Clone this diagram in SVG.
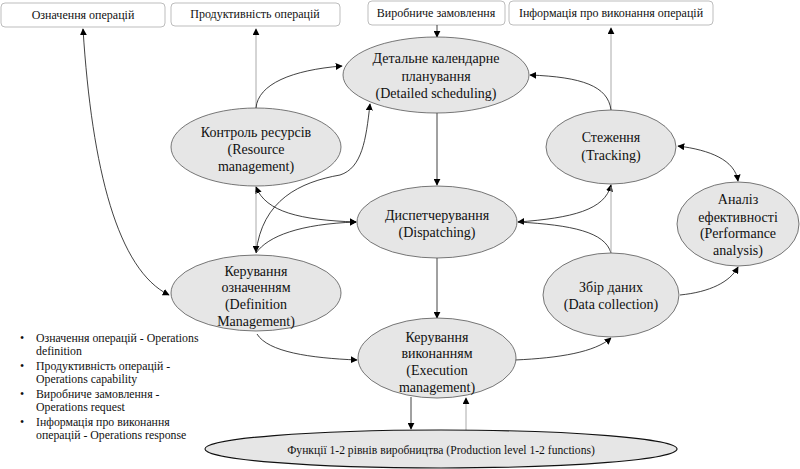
<svg xmlns="http://www.w3.org/2000/svg" width="800" height="469" viewBox="0 0 800 469">
<defs>
<marker id="ah" viewBox="0 0 10 10" refX="9" refY="5" markerWidth="7" markerHeight="7" markerUnits="userSpaceOnUse" orient="auto-start-reverse">
<path d="M0,0 L10,5 L0,10 z" fill="#000"/>
</marker>
<style>
.box{fill:#fff;stroke:#bdbdbd;stroke-width:1}
.el{fill:#e6e6e6;stroke:#555;stroke-width:0.8}
.t{font-family:"Liberation Serif","Times New Roman",serif;font-size:14px;fill:#111;text-anchor:middle}
.bt{font-family:"Liberation Serif","Times New Roman",serif;font-size:12px;fill:#111;text-anchor:middle}
.pt{font-family:"Liberation Serif","Times New Roman",serif;font-size:11.6px;fill:#111;text-anchor:middle}
.lt{font-family:"Liberation Serif","Times New Roman",serif;font-size:11.8px;fill:#111}
.c{fill:none;stroke:#111;stroke-width:0.8}
.g{fill:none;stroke:#aaa;stroke-width:1}
</style>
</defs>
<rect width="800" height="469" fill="#fff"/>

<g id="box-def"><rect class="box" x="1" y="3" width="164" height="24" rx="4"/><text class="bt" x="83" y="19">Означення операцій</text></g>
<g id="box-cap"><rect class="box" x="171" y="3" width="169" height="23" rx="4"/><text class="bt" x="255" y="18">Продуктивність операцій</text></g>
<g id="box-req"><rect class="box" x="368" y="1" width="137" height="24" rx="4"/><text class="bt" x="436" y="17">Виробниче замовлення</text></g>
<g id="box-resp"><rect class="box" x="509" y="1" width="204" height="24" rx="4"/><text class="bt" x="611" y="17">Інформація про виконання операцій</text></g>

<g id="connectors">
<path class="c" d="M83,29 C 92,170 118,270 169,295" marker-start="url(#ah)" marker-end="url(#ah)"/>
<path class="g" d="M256,108 L256,29" marker-end="url(#ah)"/>
<path class="c" d="M256,108 C 258,84 292,70 342,66" marker-end="url(#ah)"/>
<path class="c" d="M437,25 L437,37" marker-end="url(#ah)"/>
<path class="g" d="M611,110 L611,28" marker-end="url(#ah)"/>
<path class="c" d="M611,110 C 608,86 582,77 530,75" marker-end="url(#ah)"/>
<path class="c" d="M437,113 L437,185" marker-end="url(#ah)"/>
<path class="c" d="M437,258 L437,318" stroke-width="1.3" marker-end="url(#ah)"/>
<path class="c" d="M256,187 C 266,212 300,220 356,222" marker-start="url(#ah)" marker-end="url(#ah)"/>
<path class="g" d="M256,192 L256,252" marker-end="url(#ah)"/>
<path class="c" d="M356,222 C 300,224 268,236 256,253" marker-start="url(#ah)"/>
<path class="c" d="M256,253 C 262,200 300,182 340,175 C 362,168 366,140 370,104" marker-end="url(#ah)"/>
<path class="c" d="M611,185 C 605,210 572,218 518,222" marker-start="url(#ah)" marker-end="url(#ah)"/>
<path class="c" d="M611,253 C 605,232 572,225 518,222"/>
<path class="g" d="M611,253 L611,187"/>
<path class="c" d="M678,146 C 710,150 735,160 738,181" marker-start="url(#ah)" marker-end="url(#ah)"/>
<path class="c" d="M680,295 C 710,292 730,282 738,267" marker-end="url(#ah)"/>
<path class="c" d="M515,360 C 560,358 595,352 611,338" marker-end="url(#ah)"/>
<path class="c" d="M257,334 C 268,352 310,358 357,360" marker-end="url(#ah)"/>
<path class="c" d="M411,397 L411,429" marker-end="url(#ah)"/>
<path class="g" d="M466,430 L466,398" marker-end="url(#ah)"/>
</g>

<g id="n-sched"><ellipse class="el" cx="436" cy="75" rx="93" ry="38"/>
<text class="t" x="436" y="63">Детальне календарне</text><text class="t" x="436" y="81">планування</text><text class="t" x="436" y="98">(Detailed scheduling)</text></g>
<g id="n-res"><ellipse class="el" cx="256" cy="147" rx="85" ry="39"/>
<text class="t" x="256" y="137">Контроль ресурсів</text><text class="t" x="256" y="154">(Resource</text><text class="t" x="256" y="171">management)</text></g>
<g id="n-disp"><ellipse class="el" cx="437" cy="222" rx="80" ry="36"/>
<text class="t" x="437" y="220">Диспетчерування</text><text class="t" x="437" y="237">(Dispatching)</text></g>
<g id="n-track"><ellipse class="el" cx="611" cy="147" rx="65" ry="37"/>
<text class="t" x="611" y="142">Стеження</text><text class="t" x="611" y="160">(Tracking)</text></g>
<g id="n-perf"><ellipse class="el" cx="738" cy="224" rx="61" ry="42"/>
<text class="t" x="738" y="204">Аналіз</text><text class="t" x="738" y="222">ефективності</text><text class="t" x="738" y="238">(Performance</text><text class="t" x="738" y="255">analysis)</text></g>
<g id="n-data"><ellipse class="el" cx="611" cy="295" rx="68" ry="42"/>
<text class="t" x="611" y="292">Збір даних</text><text class="t" x="611" y="309">(Data collection)</text></g>
<g id="n-defm"><ellipse class="el" cx="256" cy="293" rx="85" ry="38"/>
<text class="t" x="256" y="276">Керування</text><text class="t" x="256" y="292">означенням</text><text class="t" x="256" y="309">(Definition</text><text class="t" x="256" y="326">Management)</text></g>
<g id="n-exec"><ellipse class="el" cx="437" cy="358" rx="79" ry="40"/>
<text class="t" x="437" y="342">Керування</text><text class="t" x="437" y="358">виконанням</text><text class="t" x="437" y="375">(Execution</text><text class="t" x="437" y="392">management)</text></g>
<g id="n-prod"><ellipse cx="441" cy="449" rx="236" ry="19" fill="#e6e6e6" stroke="#111" stroke-width="1.2"/>
<text class="pt" x="441" y="454">Функції 1-2 рівнів виробництва (Production level 1-2 functions)</text></g>

<g id="legend">
<text class="lt" x="20" y="342">•</text><text class="lt" x="36" y="342">Означення операцій - Operations</text>
<text class="lt" x="36" y="355">definition</text>
<text class="lt" x="20" y="370">•</text><text class="lt" x="36" y="370">Продуктивність операцій -</text>
<text class="lt" x="36" y="383">Operations capability</text>
<text class="lt" x="20" y="398">•</text><text class="lt" x="36" y="398">Виробниче замовлення -</text>
<text class="lt" x="36" y="411">Operations  request</text>
<text class="lt" x="20" y="426">•</text><text class="lt" x="36" y="426">Інформація про виконання</text>
<text class="lt" x="36" y="439">операцій - Operations  response</text>
</g>
</svg>
